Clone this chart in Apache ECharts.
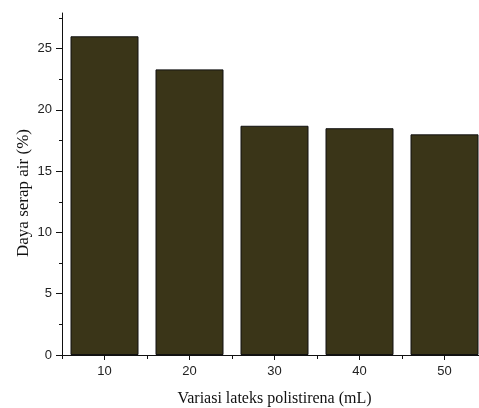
<!DOCTYPE html>
<html>
<head>
<meta charset="utf-8">
<script src="https://cdn.jsdelivr.net/npm/echarts@6/dist/echarts.min.js"></script>
<style>html,body{margin:0;padding:0;background:#fff;overflow:hidden;}#c{width:479px;height:408px;}</style>
</head>
<body>
<div id="c"></div>
<script>
var categories = ['10', '20', '30', '40', '50'];
var dayaSerap = [26.0, 23.3, 18.7, 18.5, 18.0];
var yMajorTicks = [0, 5, 10, 15, 20, 25];
var yMinorTicks = [2.5, 7.5, 12.5, 17.5, 22.5, 27.5];

var chart = echarts.init(document.getElementById('c'));
var yMin = 0, yMax = 27.9;
chart.setOption({
  animation: false,
  backgroundColor: '#fff',
  grid: { left: 62, top: 13, width: 425, height: 342, containLabel: false, outerBoundsMode: 'none' },
  xAxis: [{
    type: 'category',
    data: categories,
    name: 'Variasi lateks polistirena (mL)',
    nameLocation: 'middle',
    nameGap: 36,
    nameTextStyle: { fontFamily: 'Liberation Serif', fontSize: 16, color: '#111' },
    axisLine: { show: true, lineStyle: { color: '#111', width: 1 } },
    axisTick: { show: true, alignWithLabel: true, length: 5, lineStyle: { color: '#111' } },
    axisLabel: { fontFamily: 'Liberation Sans', fontSize: 13, color: '#222', margin: 10 },
    splitLine: { show: false }
  }, {
    type: 'category',
    data: categories,
    position: 'bottom',
    axisLine: { show: false },
    axisTick: { show: true, length: 4, lineStyle: { color: '#111' } },
    axisLabel: { show: false },
    splitLine: { show: false }
  }],
  yAxis: [{
    type: 'value',
    min: yMin, max: yMax,
    name: 'Daya serap air (%)',
    nameLocation: 'middle',
    nameGap: 30,
    nameMoveOverlap: false,
    nameTextStyle: { fontFamily: 'Liberation Serif', fontSize: 17, color: '#111', padding: [0, 18, 0, 0] },
    axisLine: { show: true, lineStyle: { color: '#111', width: 1 } },
    axisTick: { show: true, length: 6, customValues: yMajorTicks, lineStyle: { color: '#111' } },
    axisLabel: { customValues: yMajorTicks, fontFamily: 'Liberation Sans', fontSize: 13, color: '#222', margin: 10 },
    splitLine: { show: false }
  }, {
    type: 'value',
    min: yMin, max: yMax,
    position: 'left',
    axisLine: { show: false },
    axisTick: { show: true, length: 3, customValues: yMinorTicks, lineStyle: { color: '#111' } },
    axisLabel: { show: false },
    splitLine: { show: false }
  }],
  series: [{
    type: 'bar',
    data: dayaSerap,
    barWidth: '80%',
    itemStyle: { color: '#3a3518', borderColor: '#111', borderWidth: 1 }
  }]
});
</script>
</body>
</html>
